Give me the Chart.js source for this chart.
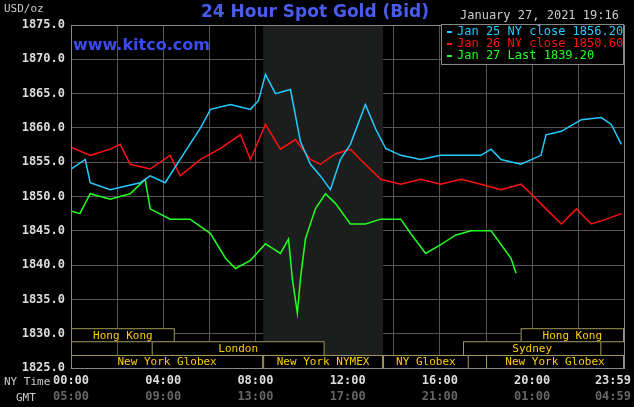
<!DOCTYPE html>
<html><head>
<script src="https://cdn.jsdelivr.net/npm/chart.js@4"></script>
<style>body{margin:0;background:#000}#wrap{width:634px;height:407px}</style>
</head><body>
<div id="wrap"><canvas id="c" width="634" height="407"></canvas></div>
<script>
// minutes since 00:00 NY time
let blueT=[0,37,50,102,180,206,245,284,337,363,415,467,488,506,532,571,597,623,649,675,701,727,766,793,819,858,910,962,1015,1067,1093,1119,1171,1223,1236,1276,1328,1380,1406,1432];
let blueV=[1854,1855.4,1852,1851,1852,1853,1852,1855.4,1860,1862.7,1863.4,1862.7,1864,1867.8,1865,1865.6,1858,1854.7,1853,1851,1855.4,1857.6,1863.4,1859.8,1857,1856,1855.4,1856,1856,1856,1856.9,1855.4,1854.7,1856,1859,1859.5,1861.2,1861.5,1860.5,1857.6];
let redT=[0,50,102,128,154,206,258,284,337,389,441,467,506,545,584,623,649,688,727,753,806,858,910,962,1015,1067,1119,1171,1197,1236,1276,1315,1354,1393,1432];
let redV=[1857.2,1856,1856.9,1857.6,1854.7,1854,1856,1853,1855.4,1857,1859,1855.4,1860.5,1856.9,1858.3,1855.4,1854.7,1856.2,1856.9,1855.4,1852.5,1851.8,1852.5,1851.8,1852.5,1851.8,1851,1851.8,1850.4,1848.2,1846,1848.2,1846,1846.7,1847.5];
let greenT=[0,23,50,102,154,193,206,258,310,363,402,428,467,506,545,566,576,589,597,610,636,662,688,727,766,806,858,884,923,962,1002,1041,1093,1119,1145,1158];
let greenV=[1847.9,1847.5,1850.4,1849.6,1850.4,1852.5,1848.2,1846.7,1846.7,1844.6,1841,1839.5,1840.7,1843.1,1841.7,1843.8,1838,1833,1838,1843.8,1848.2,1850.4,1849,1846,1846,1846.7,1846.7,1844.6,1841.7,1843,1844.4,1845,1845,1843,1841,1838.8];
let legendText=["Jan 25 NY close 1856.20","Jan 26 NY close 1850.60","Jan 27 Last 1839.20"];
let tickNY=["00:00","04:00","08:00","12:00","16:00","20:00","23:59"];
let tickGMT=["05:00","09:00","13:00","17:00","21:00","01:00","04:59"];
let tickMin=[0,240,480,720,960,1200,1439];
// market sessions [label,start,end,row]
let sessions=[["Hong Kong",0,270,0],["Hong Kong",1170,1439,0],["London",210,660,1],["Sydney",1020,1380,1],
["New York Globex",0,500,2],["New York NYMEX",500,812,2],["NY Globex",812,1035,2],["New York Globex",1080,1439,2]];
let shade=[500,812];

const mono='"DejaVu Sans Mono", monospace';
function pts(t,v){return t.map((x,i)=>({x:x,y:v[i]}));}

const deco={
  id:'deco',
  beforeDatasetsDraw(ch){
    const c=ch.ctx,x=ch.scales.x,a=ch.chartArea;
    c.save();
    c.fillStyle='#1b1e1d';
    c.fillRect(x.getPixelForValue(shade[0]),a.top,x.getPixelForValue(shade[1])-x.getPixelForValue(shade[0]),a.bottom-a.top);
    c.restore();
  },
  afterDatasetsDraw(ch){
    const c=ch.ctx,x=ch.scales.x,y=ch.scales.y,a=ch.chartArea;
    c.save();
    let rows=[y.getPixelForValue(1830.8),y.getPixelForValue(1828.9),y.getPixelForValue(1826.9),a.bottom];
    c.font='11px '+mono;c.textAlign='center';c.textBaseline='middle';
    sessions.forEach(s=>{
      let x0=x.getPixelForValue(s[1]),x1=x.getPixelForValue(s[2]);
      let t=rows[s[3]],b=rows[s[3]+1];
      c.fillStyle='#000';c.fillRect(x0,t,x1-x0,b-t);
      c.strokeStyle='#a09a5a';c.lineWidth=1;c.strokeRect(x0+0.5,t+0.5,x1-x0-1,b-t);
      c.fillStyle='#ffcc00';c.fillText(s[0],(x0+x1)/2,(t+b)/2+1);
    });
    c.strokeStyle='#888';c.strokeRect(a.left+0.5,a.top+0.5,a.right-a.left,a.bottom-a.top);
    // x labels
    c.font='bold 12px '+mono;
    tickMin.forEach((m,i)=>{
      let px=x.getPixelForValue(m);
      if(i==tickMin.length-1){c.textAlign='right';px=631;}
      c.fillStyle='#ddd';c.fillText(tickNY[i],px,a.bottom+13);
      c.fillStyle='#666';c.fillText(tickGMT[i],px,a.bottom+29);
    });
    c.font='11px '+mono;c.fillStyle='#ccc';c.textAlign='left';
    c.fillText('NY Time',4,a.bottom+14);c.fillText('GMT',16,a.bottom+30);
    c.fillText('USD/oz',4,9);
    // title
    c.font='bold 17px "DejaVu Sans", sans-serif';c.fillStyle='#4a5cf0';c.textAlign='center';
    c.fillText('24 Hour Spot Gold (Bid)',315,13);
    c.font='bold 16px "DejaVu Sans", sans-serif';c.textAlign='left';c.fillStyle='#3a4cf0';
    c.fillText('www.kitco.com',73,46);
    // date + legend
    c.font='12px '+mono;c.fillStyle='#ccc';
    c.fillText('January 27, 2021 19:16',460,16);
    c.fillStyle='#000';c.fillRect(441,24,183,40);
    c.strokeStyle='#888';c.strokeRect(441.5,24.5,182,40);
    let cols=['#22ccff','#ff1111','#22ff22'];
    legendText.forEach((t,i)=>{
      c.fillStyle=cols[i];c.fillRect(447,31+i*12,5,2);
      c.fillText(t,457,32+i*12);
    });
    c.restore();
  }
};

new Chart(document.getElementById('c'),{
  type:'line',
  data:{datasets:[
    {data:pts(blueT,blueV),borderColor:'#22ccff'},
    {data:pts(redT,redV),borderColor:'#ff1111'},
    {data:pts(greenT,greenV),borderColor:'#22ff22'}
  ]},
  options:{
    responsive:false,animation:false,
    layout:{padding:{left:0,right:10,top:25,bottom:39}},
    elements:{point:{radius:0},line:{borderWidth:1.5,tension:0}},
    plugins:{legend:{display:false},tooltip:{enabled:false}},
    scales:{
      x:{type:'linear',min:0,max:1439,
        ticks:{display:false,stepSize:120},
        afterBuildTicks(ax){let t=[];for(let m=0;m<=1440;m+=120)t.push({value:Math.min(m,1439)});ax.ticks=t;},
        grid:{color:'#555',drawTicks:false},border:{display:false}},
      y:{min:1825,max:1875,afterFit(ax){ax.width=71;},
        ticks:{stepSize:5,color:'#ddd',font:{family:'"DejaVu Sans Mono"',size:12,weight:'bold'},padding:6,
          callback:v=>v.toFixed(1)},
        grid:{color:'#555',drawTicks:false},border:{display:false}}
    }
  },
  plugins:[deco]
});
</script>
</body></html>
